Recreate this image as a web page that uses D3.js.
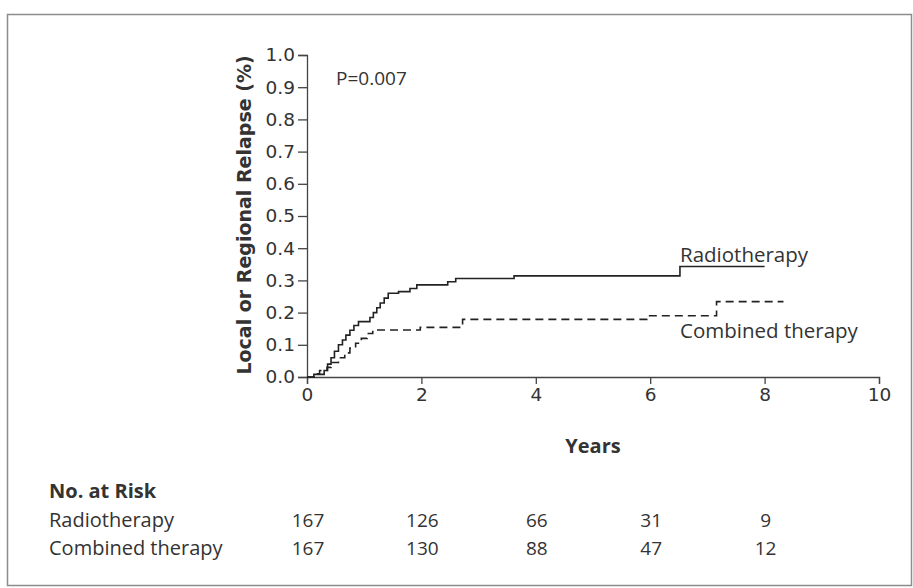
<!DOCTYPE html>
<html>
<head>
<meta charset="utf-8">
<script src="https://cdn.jsdelivr.net/npm/d3@7"></script>
<style>
  body { margin: 0; background: #fff; }
  svg { display: block; }
  text { font-family: "Open Sans", "Noto Sans", sans-serif; fill: #333; }
</style>
</head>
<body>
<svg id="chart" width="913" height="588"></svg>
<script>
// Données
const radioTimes  = [0, 0.12, 0.3, 0.36, 0.42, 0.48, 0.55, 0.62, 0.68, 0.75, 0.82, 0.9, 1.1, 1.16, 1.22, 1.28, 1.35, 1.42, 1.6, 1.8, 1.92, 2.46, 2.6, 3.62, 6.52, 8.0];
const radioValues = [0, 0.008, 0.02, 0.04, 0.06, 0.08, 0.10, 0.115, 0.13, 0.145, 0.16, 0.172, 0.185, 0.20, 0.215, 0.23, 0.245, 0.26, 0.265, 0.275, 0.286, 0.296, 0.306, 0.314, 0.343, 0.343];

const combinedTimes  = [0, 0.15, 0.22, 0.35, 0.42, 0.55, 0.66, 0.75, 0.85, 0.95, 1.05, 1.15, 1.98, 2.72, 5.94, 7.16, 8.33];
const combinedValues = [0, 0.01, 0.02, 0.03, 0.045, 0.06, 0.075, 0.09, 0.105, 0.12, 0.135, 0.146, 0.154, 0.179, 0.19, 0.234, 0.234];

const xTicks = [0, 2, 4, 6, 8, 10];
const yTicks = [0, 0.1, 0.2, 0.3, 0.4, 0.5, 0.6, 0.7, 0.8, 0.9, 1.0];

const riskGroups = ["Radiotherapy", "Combined therapy"];
const riskTimes = [0, 2, 4, 6, 8];
const radioRisk = [167, 126, 66, 31, 9];
const combinedRisk = [167, 130, 88, 47, 12];

let svg = d3.select("#chart");

// Cadre
svg.append("rect")
  .attr("x", 7.5).attr("y", 14.5)
  .attr("width", 904).attr("height", 571)
  .style("fill", "none")
  .style("stroke", "#8c8c8c")
  .style("stroke-width", 1.5);

// Echelles
let x = d3.scaleLinear().domain([0, 10]).range([307, 879]);
let y = d3.scaleLinear().domain([0, 1]).range([377, 55]);

// Axe Y
svg.append("g")
  .attr("transform", "translate(307,0)")
  .call(d3.axisLeft(y).tickValues(yTicks).tickFormat(d3.format(".1f")).tickSizeOuter(0).tickSize(9).tickPadding(3));

// Axe X
svg.append("g")
  .attr("transform", "translate(0,377)")
  .call(d3.axisBottom(x).tickValues(xTicks).tickFormat(d3.format("d")).tickSizeOuter(0).tickSize(7).tickPadding(4));

svg.selectAll(".domain, .tick line")
  .style("stroke", "#444")
  .style("stroke-width", 1.3);
svg.selectAll(".tick text")
  .style("font-family", "\"DejaVu Sans\", sans-serif")
  .style("font-size", "18.5px")
  .style("fill", "#333");

// Courbes
let line = d3.line()
  .x(d => x(d[0]))
  .y(d => y(d[1]))
  .curve(d3.curveStepAfter);

svg.append("path")
  .datum(d3.zip(radioTimes, radioValues))
  .attr("d", line)
  .style("fill", "none")
  .style("stroke", "#222")
  .style("stroke-width", 1.6);

svg.append("path")
  .datum(d3.zip(combinedTimes, combinedValues))
  .attr("d", line)
  .style("fill", "none")
  .style("stroke", "#222")
  .style("stroke-width", 1.6)
  .style("stroke-dasharray", "8,5");

// Libellés des courbes
svg.append("text")
  .attr("x", 680).attr("y", 262)
  .style("font-size", "20.5px")
  .text("Radiotherapy");

svg.append("text")
  .attr("x", 680).attr("y", 338)
  .style("font-size", "20.5px")
  .text("Combined therapy");

svg.append("text")
  .attr("x", 336).attr("y", 85)
  .style("font-size", "19px")
  .text("P=0.007");

// Titres des axes
svg.append("text")
  .attr("transform", "translate(251,215) rotate(-90)")
  .attr("text-anchor", "middle")
  .style("font-family", "\"DejaVu Sans\", sans-serif")
  .style("font-size", "19px")
  .style("font-weight", "bold")
  .text("Local or Regional Relapse (%)");

svg.append("text")
  .attr("x", 593).attr("y", 453)
  .attr("text-anchor", "middle")
  .style("font-size", "20px")
  .style("font-weight", "bold")
  .text("Years");

// Tableau des effectifs
svg.append("text")
  .attr("x", 49).attr("y", 498)
  .style("font-size", "20px")
  .style("font-weight", "bold")
  .text("No. at Risk");

let riskRows = [radioRisk, combinedRisk];
riskGroups.forEach(function(g, i){
  let yy = 527 + i * 28;
  svg.append("text")
    .attr("x", 49).attr("y", yy)
    .style("font-size", "20px")
    .text(g);
  svg.selectAll(null)
    .data(riskRows[i])
    .enter()
    .append("text")
    .attr("x", (d, j) => x(riskTimes[j]) + 1)
    .attr("y", yy)
    .attr("text-anchor", "middle")
    .style("font-size", "19px")
    .text(d => d);
});
</script>
</body>
</html>
